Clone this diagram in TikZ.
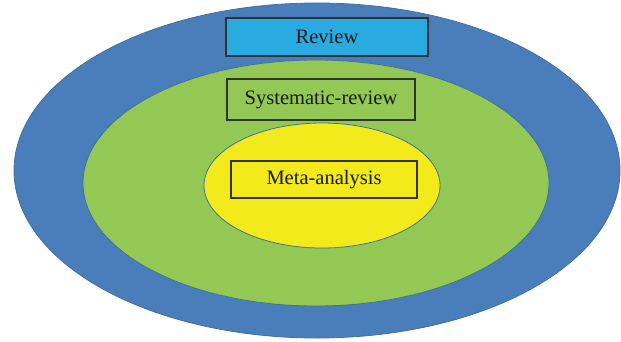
\documentclass[tikz,border=0pt]{standalone}
\usepackage{fontspec}
\setmainfont{Liberation Serif}
\usetikzlibrary{shapes.geometric}
\definecolor{ringblue}{HTML}{4A7EBB}
\definecolor{ringedge}{HTML}{41719C}
\definecolor{midgreen}{HTML}{92C853}
\definecolor{coreyellow}{HTML}{F2EA1A}
\definecolor{skyblue}{HTML}{29ABE2}
\tikzset{ring/.style={ellipse,draw=ringedge,line width=0.8pt,inner sep=0pt}, levelbox/.style={draw=black!80,line width=1.2pt,inner sep=0pt,text=black!90,font=\fontsize{20.5}{24}\selectfont}}

\begin{document}
\begin{tikzpicture}[x=1pt,y=-1pt]
\useasboundingbox (0,0) rectangle (621,341);
\node[ring,fill=ringblue,minimum width=606pt,minimum height=335pt] (review) at (317,170.5) {};
\node[ring,fill=midgreen,minimum width=466pt,minimum height=246pt] (sysrev) at (316,183) {};
\node[ring,fill=coreyellow,minimum width=236pt,minimum height=125pt] (meta) at (322,185.5) {};
\node[levelbox,fill=skyblue,minimum width=202pt,minimum height=38pt] (reviewlbl) at (327,37) {Review};
\node[levelbox,minimum width=188pt,minimum height=41pt] (sysrevlbl) at (321,99.5) {Systematic-review};
\node[levelbox,minimum width=186pt,minimum height=37pt] (metalbl) at (324,179.5) {Meta-analysis};
\end{tikzpicture}
\end{document}
